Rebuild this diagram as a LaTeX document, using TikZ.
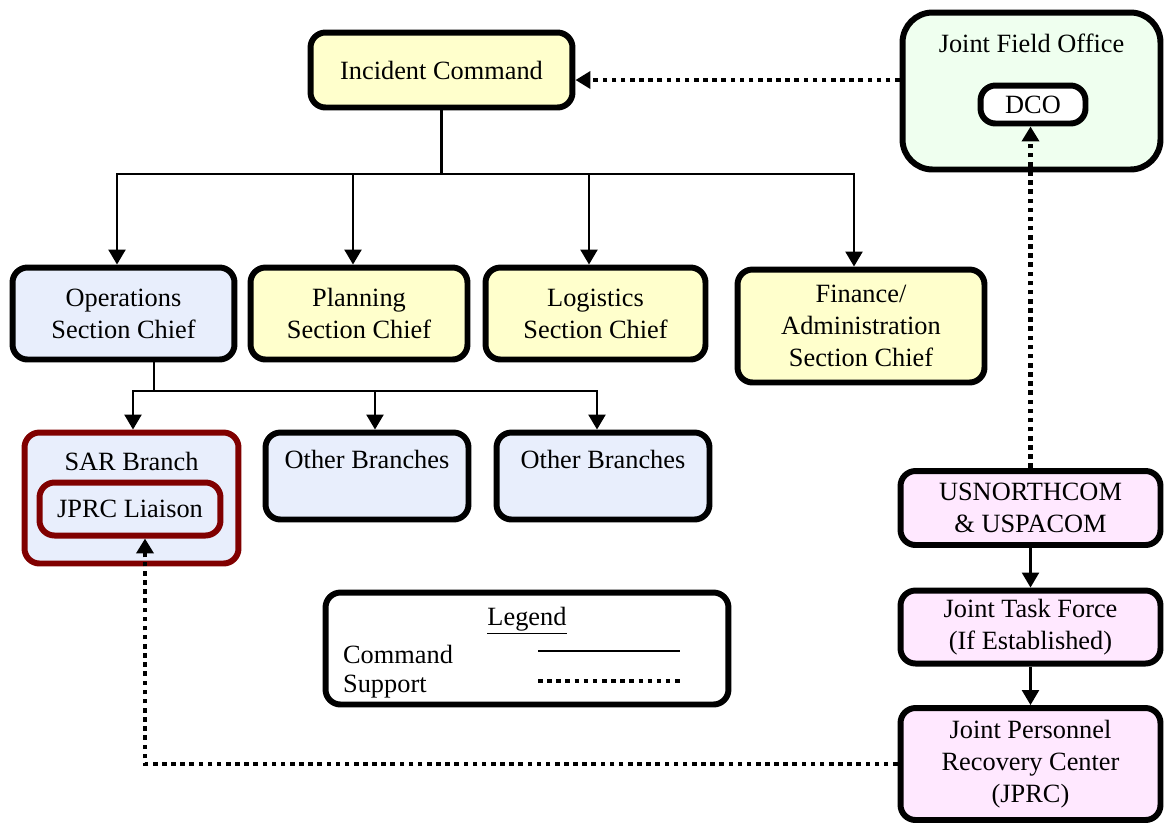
\documentclass[tikz,border=0pt]{standalone}
\usepackage{fontspec}
\setmainfont{Liberation Serif}
\usetikzlibrary{arrows.meta,positioning}
\definecolor{icyellow}{HTML}{FFFFCC}
\definecolor{jfogreen}{HTML}{EFFFEF}
\definecolor{opsblue}{HTML}{E8EEFC}
\definecolor{jprcpink}{HTML}{FFE8FF}
\definecolor{sarred}{HTML}{800000}

\begin{document}
\fontsize{15}{18.2}\selectfont
\begin{tikzpicture}[x=0.02cm, y=-0.02cm,
  box/.style={draw, line width=3.4pt, rounded corners=0.3cm, align=center, inner sep=2pt},
  cmd/.style={line width=1.4pt, -{Triangle[width=0.34cm,length=0.3cm]}},
  support/.style={line width=2.7pt, dash pattern=on 2.6pt off 2.6pt, -{Triangle[width=0.34cm,length=0.3cm]}}]

\useasboundingbox (0,0) rectangle (1165,823);

% top of the chart
\node[box, fill=icyellow, minimum width=5.24cm, minimum height=1.5cm] (ic) at (441.5,70) {Incident Command};
\node[box, fill=jfogreen, rounded corners=0.6cm, minimum width=5.16cm, minimum height=3.14cm] (jfo) at (1031.5,91) {};
\node (jfolabel) at (1031.5,43) {Joint Field Office};
\node[box, fill=white, minimum width=2.1cm, minimum height=0.76cm] (dco) at (1033,104.5) {DCO};

% sections
\node[box, fill=opsblue, minimum width=4.44cm, minimum height=1.84cm] (ops) at (123.5,313.5) {Operations\\Section Chief};
\node[box, fill=icyellow, minimum width=4.34cm, minimum height=1.84cm] (plan) at (359,313.5) {Planning\\Section Chief};
\node[box, fill=icyellow, minimum width=4.4cm, minimum height=1.84cm] (logi) at (595.5,313.5) {Logistics\\Section Chief};
\node[box, fill=icyellow, minimum width=4.94cm, minimum height=2.26cm] (fin) at (861,326) {Finance/\\Administration\\Section Chief};

% branches
\node[box, draw=sarred, fill=opsblue, minimum width=4.28cm, minimum height=2.62cm] (sar) at (131.5,498) {};
\node (sarlabel) at (131.5,461) {SAR Branch};
\node[box, draw=sarred, fill=opsblue, minimum width=3.62cm, minimum height=1.06cm] (liaison) at (130,509) {JPRC Liaison};
\node[box, fill=opsblue, minimum width=4.06cm, minimum height=1.74cm] (other1) at (367,476) {};
\node (other1label) at (367,459) {Other Branches};
\node[box, fill=opsblue, minimum width=4.26cm, minimum height=1.74cm] (other2) at (603,476) {};
\node (other2label) at (603,459) {Other Branches};

% military side
\node[box, fill=jprcpink, minimum width=5.2cm, minimum height=1.48cm] (usn) at (1030.5,508) {USNORTHCOM\\\& USPACOM};
\node[box, fill=jprcpink, minimum width=5.2cm, minimum height=1.46cm] (jtf) at (1030.5,627) {Joint Task Force\\(If Established)};
\node[box, fill=jprcpink, minimum width=5.2cm, minimum height=2.24cm] (jprc) at (1030.5,764) {Joint Personnel\\Recovery Center\\(JPRC)};

% legend
\node[box, minimum width=8.06cm, minimum height=2.24cm] (legend) at (527,648.5) {};
\node (legendtitle) at (527,621) {\underline{Legend}};
\node[anchor=west] (cmdlabel) at (334,654) {Command};
\node[anchor=west] (suplabel) at (334,687) {Support};
\coordinate (cmdA) at (538,651);
\coordinate (cmdB) at (680,651);
\coordinate (supA) at (538,681);
\coordinate (supB) at (680,681);
\draw[line width=1.4pt] (cmdA) -- (cmdB);
\draw[line width=2.7pt, dash pattern=on 2.6pt off 2.6pt] (supA) -- (supB);

% command lines
\coordinate (icbus) at (442,174);
\draw[line width=1.4pt] (ic.south) -- (ic.south |- icbus);
\draw[cmd] (icbus) -| ([xshift=-0.13cm]ops.north);
\draw[cmd] (icbus) -| ([xshift=-0.12cm]plan.north);
\draw[cmd] (icbus) -| ([xshift=-0.13cm]logi.north);
\draw[cmd] (icbus) -| ([xshift=-0.14cm]fin.north);

\coordinate (opsbus) at (154,391);
\draw[line width=1.4pt] (ops.south -| opsbus) -- (opsbus);
\draw[cmd] (opsbus) -| ([xshift=0.03cm]sar.north);
\draw[cmd] (opsbus) -| ([xshift=0.16cm]other1.north);
\draw[cmd] (opsbus) -| ([xshift=-0.12cm]other2.north);

\draw[cmd] (usn) -- (jtf);
\draw[cmd] (jtf) -- (jprc);

% support lines
\draw[support] (jfo.west |- 0,80) -- (ic.east |- 0,80);
\draw[support] (usn.north) -- (usn.north |- dco.south);
\draw[support] (jprc.west) -| ([xshift=0.3cm]liaison.south);

\end{tikzpicture}
\end{document}
